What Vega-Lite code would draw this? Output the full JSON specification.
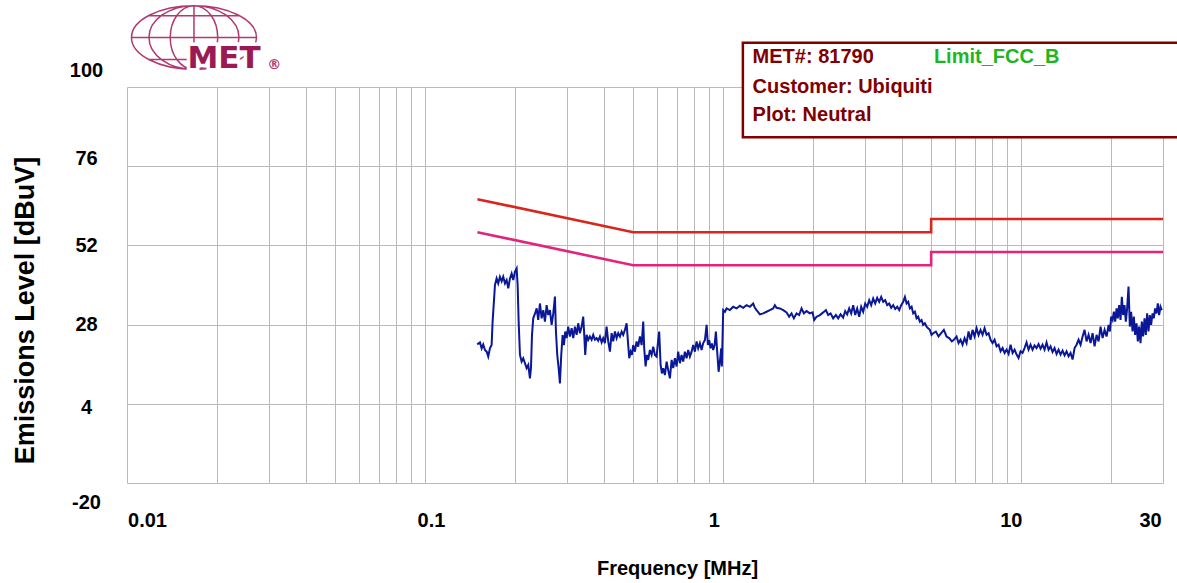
{
  "$schema": "https://vega.github.io/schema/vega-lite/v6.json",
  "width": 1036,
  "height": 396,
  "autosize": {"type": "none"},
  "padding": {"left": 127, "top": 87, "right": 14, "bottom": 100},
  "background": "white",
  "config": {"view": {"stroke": null}, "font": "Liberation Sans"},
  "datasets": {
    "limits": [
      {"f": 0.15, "dB": 66, "limit": "Quasi-peak"},
      {"f": 0.5, "dB": 56, "limit": "Quasi-peak"},
      {"f": 5, "dB": 56, "limit": "Quasi-peak"},
      {"f": 5, "dB": 60, "limit": "Quasi-peak"},
      {"f": 30, "dB": 60, "limit": "Quasi-peak"},
      {"f": 0.15, "dB": 56, "limit": "Average"},
      {"f": 0.5, "dB": 46, "limit": "Average"},
      {"f": 5, "dB": 46, "limit": "Average"},
      {"f": 5, "dB": 50, "limit": "Average"},
      {"f": 30, "dB": 50, "limit": "Average"}
    ],
    "trace": [
      {"f":0.1498,"dB":22},{"f":0.1530,"dB":22.6},{"f":0.1550,"dB":20.8},{"f":0.1569,"dB":22},{"f":0.1590,"dB":20.3},{"f":0.1611,"dB":19.8},{"f":0.1631,"dB":18.3},{"f":0.1652,"dB":20.8},{"f":0.1674,"dB":21.8},{"f":0.1687,"dB":28.9},
      {"f":0.1718,"dB":40},{"f":0.1740,"dB":42},{"f":0.1762,"dB":40.5},{"f":0.1785,"dB":42.5},{"f":0.1809,"dB":41.1},{"f":0.1831,"dB":42.5},{"f":0.1856,"dB":40.5},{"f":0.1880,"dB":41.5},{"f":0.1904,"dB":39},{"f":0.1929,"dB":42},
      {"f":0.1954,"dB":43.5},{"f":0.1979,"dB":41.5},{"f":0.2004,"dB":44},{"f":0.2031,"dB":45},{"f":0.2047,"dB":40},{"f":0.2063,"dB":28.9},{"f":0.2084,"dB":18.8},{"f":0.2111,"dB":16.8},{"f":0.2138,"dB":17.8},{"f":0.2166,"dB":16.3},
      {"f":0.2194,"dB":14.8},{"f":0.2222,"dB":15.8},{"f":0.2251,"dB":11.7},{"f":0.2269,"dB":14.8},{"f":0.2287,"dB":24.8},{"f":0.2309,"dB":29.9},{"f":0.2340,"dB":31.3},{"f":0.2371,"dB":32.9},{"f":0.2400,"dB":29.4},{"f":0.2432,"dB":34.4},
      {"f":0.2464,"dB":29.9},{"f":0.2495,"dB":32.4},{"f":0.2528,"dB":28.9},{"f":0.2561,"dB":33.9},{"f":0.2593,"dB":30.9},{"f":0.2627,"dB":32.4},{"f":0.2662,"dB":27.9},{"f":0.2695,"dB":31.3},{"f":0.2731,"dB":36.5},{"f":0.2752,"dB":25.9},
      {"f":0.2780,"dB":18.8},{"f":0.2810,"dB":14.8},{"f":0.2838,"dB":10.2},{"f":0.2867,"dB":18.8},{"f":0.2898,"dB":24.8},{"f":0.2927,"dB":21.8},{"f":0.2957,"dB":25.9},{"f":0.2989,"dB":23.9},{"f":0.3026,"dB":27.4},{"f":0.3066,"dB":24.4},
      {"f":0.3107,"dB":26.9},{"f":0.3146,"dB":23.9},{"f":0.3187,"dB":27.4},{"f":0.3229,"dB":24.9},{"f":0.3269,"dB":28.4},{"f":0.3312,"dB":25.4},{"f":0.3356,"dB":27.4},{"f":0.3398,"dB":30.4},{"f":0.3425,"dB":24.9},{"f":0.3451,"dB":18.8},
      {"f":0.3488,"dB":24.9},{"f":0.3532,"dB":23.4},{"f":0.3578,"dB":24.4},{"f":0.3626,"dB":23.4},{"f":0.3671,"dB":24.9},{"f":0.3720,"dB":23.4},{"f":0.3769,"dB":23.9},{"f":0.3815,"dB":23.1},{"f":0.3866,"dB":24.4},{"f":0.3917,"dB":22.6},
      {"f":0.3966,"dB":23.9},{"f":0.4018,"dB":22.4},{"f":0.4071,"dB":27.4},{"f":0.4122,"dB":22.9},{"f":0.4177,"dB":19.8},{"f":0.4232,"dB":25.4},{"f":0.4285,"dB":22.9},{"f":0.4342,"dB":25.9},{"f":0.4399,"dB":23.9},{"f":0.4454,"dB":25.4},
      {"f":0.4513,"dB":24.4},{"f":0.4572,"dB":25.9},{"f":0.4628,"dB":24.9},{"f":0.4690,"dB":26.4},{"f":0.4752,"dB":28.4},{"f":0.4800,"dB":22.9},{"f":0.4849,"dB":17.8},{"f":0.4902,"dB":19.8},{"f":0.4950,"dB":18.8},{"f":0.5000,"dB":21.8},
      {"f":0.5066,"dB":19.8},{"f":0.5133,"dB":22.9},{"f":0.5197,"dB":21.3},{"f":0.5266,"dB":24.4},{"f":0.5336,"dB":21.8},{"f":0.5403,"dB":28.9},{"f":0.5444,"dB":20.8},{"f":0.5503,"dB":15.3},{"f":0.5559,"dB":18.8},{"f":0.5615,"dB":17.3},
      {"f":0.5689,"dB":20.3},{"f":0.5764,"dB":18.8},{"f":0.5836,"dB":21.3},{"f":0.5913,"dB":18.8},{"f":0.5991,"dB":18.3},{"f":0.6066,"dB":23.4},{"f":0.6112,"dB":25.9},{"f":0.6179,"dB":15.8},{"f":0.6242,"dB":13.2},{"f":0.6306,"dB":14.8},
      {"f":0.6389,"dB":12.7},{"f":0.6473,"dB":16.8},{"f":0.6553,"dB":14.2},{"f":0.6640,"dB":11.7},{"f":0.6729,"dB":17.3},{"f":0.6812,"dB":14.8},{"f":0.6902,"dB":17.8},{"f":0.6993,"dB":15.3},{"f":0.7079,"dB":19.8},{"f":0.7173,"dB":16.3},
      {"f":0.7267,"dB":18.8},{"f":0.7358,"dB":16.8},{"f":0.7455,"dB":19.8},{"f":0.7553,"dB":17.8},{"f":0.7648,"dB":20.3},{"f":0.7749,"dB":18.3},{"f":0.7852,"dB":19.8},{"f":0.7949,"dB":21.8},{"f":0.8054,"dB":19.8},{"f":0.8160,"dB":22.9},
      {"f":0.8262,"dB":20.8},{"f":0.8371,"dB":22.4},{"f":0.8482,"dB":20.3},{"f":0.8588,"dB":22.4},{"f":0.8702,"dB":23.3},{"f":0.8817,"dB":27.9},{"f":0.8906,"dB":21.8},{"f":0.8995,"dB":23.3},{"f":0.9093,"dB":20.8},{"f":0.9185,"dB":22.3},
      {"f":0.9277,"dB":20.3},{"f":0.9378,"dB":21.8},{"f":0.9473,"dB":25.9},{"f":0.9569,"dB":19.8},{"f":0.9674,"dB":13.7},{"f":0.9770,"dB":16.8},{"f":0.9869,"dB":20.8},{"f":0.9922,"dB":15.3},
      {"f":1.0023,"dB":32.4},{"f":1.0156,"dB":31.9},{"f":1.0290,"dB":32.9},{"f":1.0556,"dB":32.4},{"f":1.0829,"dB":33.4},{"f":1.1117,"dB":32.9},{"f":1.1404,"dB":33.7},{"f":1.1698,"dB":33.1},{"f":1.2009,"dB":33.9},{"f":1.2319,"dB":33.4},
      {"f":1.2637,"dB":34.4},{"f":1.2804,"dB":33.1},{"f":1.2973,"dB":32.4},{"f":1.3308,"dB":31.1},{"f":1.3651,"dB":31.4},{"f":1.4014,"dB":31.9},{"f":1.4376,"dB":32.4},{"f":1.4748,"dB":32.9},{"f":1.4943,"dB":33.9},{"f":1.5141,"dB":33.1},
      {"f":1.5532,"dB":32.9},{"f":1.5933,"dB":32.4},{"f":1.6356,"dB":31.7},{"f":1.6688,"dB":30.4},{"f":1.7001,"dB":31.4},{"f":1.7306,"dB":29.9},{"f":1.7671,"dB":31.4},{"f":1.8029,"dB":30.9},{"f":1.8366,"dB":32.9},{"f":1.8696,"dB":31.4},
      {"f":1.9090,"dB":32.1},{"f":1.9583,"dB":31.4},{"f":2.0000,"dB":31.7},{"f":2.0249,"dB":29.4},{"f":2.0628,"dB":30.4},{"f":2.1160,"dB":30.9},{"f":2.1706,"dB":31.7},{"f":2.2163,"dB":32.4},{"f":2.2561,"dB":30.9},{"f":2.2983,"dB":31.4},
      {"f":2.3449,"dB":29.9},{"f":2.3944,"dB":30.9},{"f":2.4373,"dB":29.9},{"f":2.4829,"dB":31.1},{"f":2.5333,"dB":30.1},{"f":2.5727,"dB":32.1},{"f":2.6128,"dB":31.1},{"f":2.6536,"dB":32.9},{"f":2.6950,"dB":31.4},{"f":2.7370,"dB":33.9},
      {"f":2.7797,"dB":30.9},{"f":2.8230,"dB":32.9},{"f":2.8670,"dB":30.4},{"f":2.9117,"dB":33.4},{"f":2.9571,"dB":31.9},{"f":3.0032,"dB":34.4},{"f":3.0500,"dB":33.4},{"f":3.0975,"dB":35.4},{"f":3.1458,"dB":33.9},{"f":3.1948,"dB":35.9},
      {"f":3.2446,"dB":34.4},{"f":3.2952,"dB":36.1},{"f":3.3466,"dB":34.9},{"f":3.3987,"dB":36.4},{"f":3.4517,"dB":34.9},{"f":3.5055,"dB":35.4},{"f":3.5601,"dB":33.9},{"f":3.6156,"dB":34.4},{"f":3.6719,"dB":33.1},{"f":3.7291,"dB":33.9},
      {"f":3.7873,"dB":32.7},{"f":3.8463,"dB":33.4},{"f":3.9062,"dB":32.4},{"f":3.9671,"dB":33.9},{"f":4.0289,"dB":34.9},{"f":4.0822,"dB":36.4},{"f":4.1361,"dB":34.4},{"f":4.1876,"dB":34.9},{"f":4.2429,"dB":32.9},{"f":4.2990,"dB":33.4},
      {"f":4.3524,"dB":31.4},{"f":4.4099,"dB":31.9},{"f":4.4668,"dB":29.9},{"f":4.5224,"dB":30.4},{"f":4.5821,"dB":28.9},{"f":4.6427,"dB":29.4},{"f":4.7004,"dB":27.9},{"f":4.7625,"dB":28.4},{"f":4.8254,"dB":27.4},{"f":4.8854,"dB":26.9},
      {"f":4.9499,"dB":26.4},{"f":5.0153,"dB":24.9},{"f":5.0777,"dB":25.4},{"f":5.1849,"dB":25.9},{"f":5.2942,"dB":24.4},{"f":5.4016,"dB":25.4},{"f":5.5155,"dB":26.4},{"f":5.6317,"dB":24.4},{"f":5.7461,"dB":23.9},{"f":5.8672,"dB":22.9},
      {"f":5.9586,"dB":23.4},{"f":6.0843,"dB":24.4},{"f":6.1791,"dB":22.4},{"f":6.2754,"dB":23.4},{"f":6.3732,"dB":21.9},{"f":6.4725,"dB":23.9},{"f":6.5735,"dB":22.4},{"f":6.6759,"dB":25.9},{"f":6.7800,"dB":23.4},{"f":6.8857,"dB":26.4},
      {"f":6.9930,"dB":24.4},{"f":7.1020,"dB":26.9},{"f":7.2127,"dB":24.8},{"f":7.3251,"dB":26.4},{"f":7.4393,"dB":24.9},{"f":7.5553,"dB":26.9},{"f":7.6731,"dB":24.9},{"f":7.7927,"dB":25.4},{"f":7.9141,"dB":23.4},{"f":8.0375,"dB":22.4},
      {"f":8.1628,"dB":23.4},{"f":8.2901,"dB":21.4},{"f":8.4193,"dB":21.9},{"f":8.5506,"dB":19.9},{"f":8.6839,"dB":20.9},{"f":8.8192,"dB":19.4},{"f":8.9567,"dB":20.4},{"f":9.0963,"dB":19.1},{"f":9.2381,"dB":21.9},{"f":9.3821,"dB":19.4},
      {"f":9.5284,"dB":20.4},{"f":9.6769,"dB":18.9},{"f":9.8238,"dB":17.9},{"f":9.9768,"dB":19.9},{"f":10.132,"dB":19.4},{"f":10.290,"dB":20.9},{"f":10.450,"dB":22.6},{"f":10.613,"dB":20.4},{"f":10.779,"dB":21.9},{"f":10.947,"dB":20.4},
      {"f":11.117,"dB":21.7},{"f":11.291,"dB":20.9},{"f":11.467,"dB":22.1},{"f":11.645,"dB":20.7},{"f":11.827,"dB":21.9},{"f":12.011,"dB":20.4},{"f":12.198,"dB":22.6},{"f":12.389,"dB":20.4},{"f":12.582,"dB":21.4},{"f":12.778,"dB":19.7},
      {"f":12.977,"dB":20.9},{"f":13.179,"dB":19.1},{"f":13.385,"dB":20.4},{"f":13.593,"dB":18.9},{"f":13.805,"dB":20.1},{"f":14.020,"dB":18.7},{"f":14.239,"dB":19.9},{"f":14.461,"dB":18.4},{"f":14.686,"dB":19.4},{"f":14.915,"dB":17.4},
      {"f":15.147,"dB":20.9},{"f":15.383,"dB":21.9},{"f":15.623,"dB":23.4},{"f":15.867,"dB":21.9},{"f":16.114,"dB":24.4},{"f":16.365,"dB":26.4},{"f":16.620,"dB":22.9},{"f":16.879,"dB":24.9},{"f":17.142,"dB":22.4},{"f":17.409,"dB":25.4},
      {"f":17.681,"dB":21.4},{"f":17.956,"dB":24.9},{"f":18.236,"dB":22.9},{"f":18.520,"dB":27.4},{"f":18.809,"dB":23.9},{"f":19.102,"dB":26.4},{"f":19.399,"dB":24.4},{"f":19.702,"dB":27.9},{"f":19.900,"dB":25.9},{"f":20.100,"dB":30.4},
      {"f":20.319,"dB":29.4},{"f":20.524,"dB":31.9},{"f":20.731,"dB":28.9},{"f":20.957,"dB":32.9},{"f":21.160,"dB":29.9},{"f":21.374,"dB":33.9},{"f":21.606,"dB":29.4},{"f":21.825,"dB":36.4},{"f":22.045,"dB":30.9},{"f":22.285,"dB":33.9},
      {"f":22.509,"dB":28.9},{"f":22.737,"dB":32.9},{"f":22.984,"dB":39.5},{"f":23.216,"dB":27.4},{"f":23.450,"dB":31.9},{"f":23.705,"dB":25.9},{"f":23.944,"dB":30.4},{"f":24.186,"dB":24.9},{"f":24.449,"dB":28.4},{"f":24.696,"dB":22.9},
      {"f":24.945,"dB":27.4},{"f":25.216,"dB":22.4},{"f":25.471,"dB":28.9},{"f":25.727,"dB":24.4},{"f":26.007,"dB":29.9},{"f":26.270,"dB":24.9},{"f":26.535,"dB":31.4},{"f":26.823,"dB":25.9},{"f":27.094,"dB":30.9},{"f":27.368,"dB":27.9},
      {"f":27.665,"dB":31.4},{"f":27.944,"dB":29.9},{"f":28.226,"dB":32.9},{"f":28.533,"dB":31.4},{"f":28.821,"dB":34.4},{"f":29.112,"dB":30.9},{"f":29.428,"dB":33.4},{"f":29.725,"dB":32.4}
    ]
  },
  "layer": [
    {
      "data": {"name": "limits"},
      "mark": {"type": "line", "strokeWidth": 2.6},
      "encoding": {
        "x": {
          "field": "f", "type": "quantitative",
          "scale": {"type": "log", "domain": [0.01, 30], "nice": false},
          "axis": {
            "title": "Frequency [MHz]",
            "values": [0.01,0.02,0.03,0.04,0.05,0.06,0.07,0.08,0.09,0.1,0.2,0.3,0.4,0.5,0.6,0.7,0.8,0.9,1,2,3,4,5,6,7,8,9,10,20,30],
            "labelExpr": "datum.value == 0.01 ? '0.01' : datum.value == 0.1 ? '0.1' : datum.value == 1 ? '1' : datum.value == 10 ? '10' : datum.value == 30 ? '30' : ''",
            "labelOffset": {"expr": "datum.value == 0.01 ? 20 : datum.value == 0.1 ? 6 : datum.value == 1 ? -9 : datum.value == 10 ? -10 : datum.value == 30 ? -13 : 0"},
            "grid": true, "gridColor": "#bababa", "gridWidth": 1, "gridOpacity": 1,
            "domain": false, "ticks": false, "tickSize": 0,
            "labelFont": "Liberation Sans", "labelFontWeight": "bold", "labelFontSize": 20, "labelColor": "#000000",
            "labelBaseline": "middle", "labelAlign": "center", "labelPadding": 37,
            "labelFlush": false, "labelOverlap": false, "labelBound": false,
            "titleFont": "Liberation Sans", "titleFontWeight": "bold", "titleFontSize": 20, "titleColor": "#000000",
            "titleX": 550, "titleY": 85, "titleAlign": "center", "titleBaseline": "middle"
          }
        },
        "y": {
          "field": "dB", "type": "quantitative",
          "scale": {"domain": [-20, 100], "nice": false, "zero": false},
          "axis": {
            "title": "Emissions Level [dBuV]",
            "values": [-20, -8, 4, 16, 28, 40, 52, 64, 76, 88, 100],
            "labelExpr": "datum.value == 100 ? '100' : datum.value == 76 ? '76' : datum.value == 52 ? '52' : datum.value == 28 ? '28' : datum.value == 4 ? '4' : datum.value == -20 ? '-20' : ''",
            "labelOffset": {"expr": "datum.value == 100 ? -17 : datum.value == 76 ? -8 : datum.value == 4 ? 4 : datum.value == -20 ? 19 : 0"},
            "grid": true, "gridColor": "#bababa", "gridWidth": 1, "gridOpacity": 1,
            "domain": false, "ticks": false, "tickSize": 0,
            "labelFont": "Liberation Sans", "labelFontWeight": "bold", "labelFontSize": 20, "labelColor": "#000000",
            "labelAlign": "center", "labelBaseline": "middle", "labelPadding": 41,
            "labelFlush": false, "labelOverlap": false, "labelBound": false,
            "titleFont": "Liberation Sans", "titleFontWeight": "bold", "titleFontSize": 27, "titleColor": "#000000",
            "titleX": -102, "titleY": 223, "titleAngle": -90, "titleAlign": "center", "titleBaseline": "middle"
          }
        },
        "color": {
          "field": "limit", "type": "nominal",
          "scale": {"domain": ["Quasi-peak", "Average"], "range": ["#d8261f", "#e2247e"]},
          "legend": null
        }
      }
    },
    {
      "data": {"name": "trace"},
      "mark": {"type": "line", "color": "#0a1898", "strokeWidth": 2},
      "encoding": {
        "x": {"field": "f", "type": "quantitative", "scale": {"type": "log", "domain": [0.01, 30], "nice": false}},
        "y": {"field": "dB", "type": "quantitative", "scale": {"domain": [-20, 100], "nice": false, "zero": false}}
      }
    },
    {
      "data": {"values": [{}]},
      "mark": {"type": "rect", "fill": "white", "stroke": "#800000", "strokeWidth": 2.5},
      "encoding": {
        "x": {"datum": 1.167, "type": "quantitative", "scale": {"type": "log", "domain": [0.01, 30], "nice": false}},
        "x2": {"datum": 36},
        "y": {"datum": 113.4, "type": "quantitative", "scale": {"domain": [-20, 100], "nice": false, "zero": false}},
        "y2": {"datum": 84.8}
      }
    },
    {
      "data": {"values": [{}]},
      "mark": {"type": "text", "text": "MET#: 81790", "align": "left", "baseline": "middle", "font": "Liberation Sans", "fontWeight": "bold", "fontSize": 20, "color": "#800000"},
      "encoding": {
        "x": {"datum": 1.258, "type": "quantitative", "scale": {"type": "log", "domain": [0.01, 30], "nice": false}},
        "y": {"datum": 109, "type": "quantitative", "scale": {"domain": [-20, 100], "nice": false, "zero": false}}
      }
    },
    {
      "data": {"values": [{}]},
      "mark": {"type": "text", "text": "Limit_FCC_B", "align": "left", "baseline": "middle", "font": "Liberation Sans", "fontWeight": "bold", "fontSize": 20, "color": "#1fb51f"},
      "encoding": {
        "x": {"datum": 5.107, "type": "quantitative", "scale": {"type": "log", "domain": [0.01, 30], "nice": false}},
        "y": {"datum": 109, "type": "quantitative", "scale": {"domain": [-20, 100], "nice": false, "zero": false}}
      }
    },
    {
      "data": {"values": [{}]},
      "mark": {"type": "text", "text": "Customer: Ubiquiti", "align": "left", "baseline": "middle", "font": "Liberation Sans", "fontWeight": "bold", "fontSize": 20, "color": "#800000"},
      "encoding": {
        "x": {"datum": 1.258, "type": "quantitative", "scale": {"type": "log", "domain": [0.01, 30], "nice": false}},
        "y": {"datum": 100.1, "type": "quantitative", "scale": {"domain": [-20, 100], "nice": false, "zero": false}}
      }
    },
    {
      "data": {"values": [{}]},
      "mark": {"type": "text", "text": "Plot: Neutral", "align": "left", "baseline": "middle", "font": "Liberation Sans", "fontWeight": "bold", "fontSize": 20, "color": "#800000"},
      "encoding": {
        "x": {"datum": 1.258, "type": "quantitative", "scale": {"type": "log", "domain": [0.01, 30], "nice": false}},
        "y": {"datum": 91.5, "type": "quantitative", "scale": {"domain": [-20, 100], "nice": false, "zero": false}}
      }
    },
    {
      "data": {"values": [{}]},
      "mark": {
        "type": "point",
        "shape": "M-1,0A1,0.51,0,1,1,1,0A1,0.51,0,1,1,-1,0Z M-1,0L1,0 M0,-0.51L0,0.51 M-0.73,-0.35L0.73,-0.35 M-0.73,0.35L0.73,0.35 M0,-0.51A0.38,0.51,0,0,0,0,0.51 M0,-0.51A0.38,0.51,0,0,1,0,0.51 M0,-0.51A0.72,0.51,0,0,0,0,0.51 M0,-0.51A0.72,0.51,0,0,1,0,0.51",
        "filled": false, "stroke": "#b03a70", "strokeWidth": 1.5, "size": 15625, "opacity": 1
      },
      "encoding": {
        "x": {"datum": 0.01678, "type": "quantitative", "scale": {"type": "log", "domain": [0.01, 30], "nice": false}},
        "y": {"datum": 115, "type": "quantitative", "scale": {"domain": [-20, 100], "nice": false, "zero": false}}
      }
    },
    {
      "data": {"values": [{}]},
      "mark": {"type": "text", "text": "MET", "align": "center", "baseline": "middle", "font": "DejaVu Sans", "fontWeight": "bold", "fontSize": 31, "fill": "white", "stroke": "white", "strokeWidth": 7},
      "encoding": {
        "x": {"datum": 0.02116, "type": "quantitative", "scale": {"type": "log", "domain": [0.01, 30], "nice": false}},
        "y": {"datum": 108.6, "type": "quantitative", "scale": {"domain": [-20, 100], "nice": false, "zero": false}}
      }
    },
    {
      "data": {"values": [{}]},
      "mark": {"type": "text", "text": "MET", "align": "center", "baseline": "middle", "font": "DejaVu Sans", "fontWeight": "bold", "fontSize": 31, "color": "#9c1a54"},
      "encoding": {
        "x": {"datum": 0.02116, "type": "quantitative", "scale": {"type": "log", "domain": [0.01, 30], "nice": false}},
        "y": {"datum": 108.6, "type": "quantitative", "scale": {"domain": [-20, 100], "nice": false, "zero": false}}
      }
    },
    {
      "data": {"values": [{}]},
      "mark": {"type": "text", "text": "®", "align": "center", "baseline": "middle", "font": "DejaVu Sans", "fontWeight": "bold", "fontSize": 14, "color": "#b03a70"},
      "encoding": {
        "x": {"datum": 0.0312, "type": "quantitative", "scale": {"type": "log", "domain": [0.01, 30], "nice": false}},
        "y": {"datum": 106.8, "type": "quantitative", "scale": {"domain": [-20, 100], "nice": false, "zero": false}}
      }
    }
  ]
}
